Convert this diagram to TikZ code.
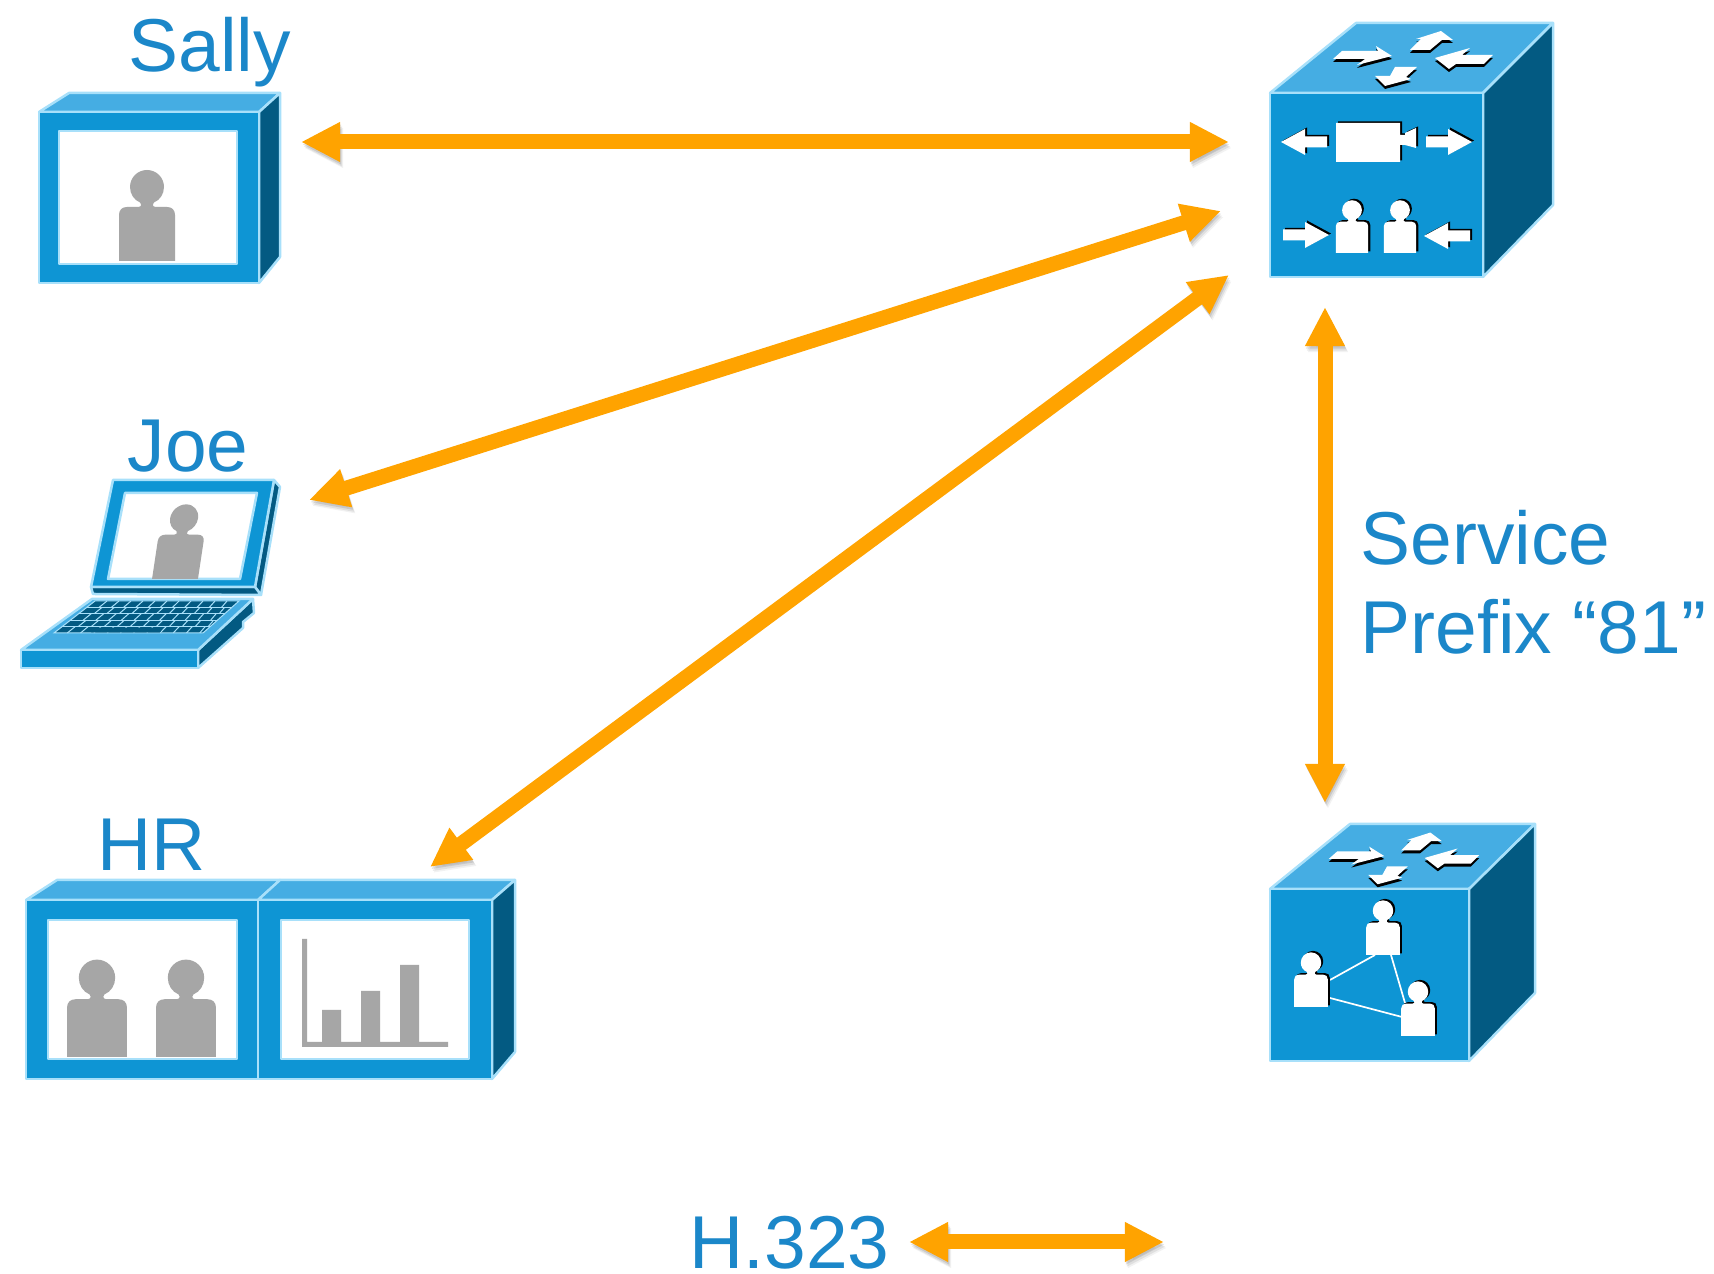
\documentclass[tikz,border=0pt]{standalone}
\usepackage{fontspec}
\setmainfont{Liberation Sans}
\usetikzlibrary{arrows.meta}

\definecolor{labelblue}{HTML}{1B87C9}
\definecolor{frontblue}{HTML}{0E95D4}
\definecolor{topblue}{HTML}{45ADE3}
\definecolor{sideblue}{HTML}{035A82}
\definecolor{edgeblue}{HTML}{A8E0FA}
\definecolor{linkorange}{HTML}{FFA300}
\definecolor{figgray}{HTML}{A6A6A6}

\tikzset{
	label/.style={font=\fontsize{21.3}{25}\selectfont, text=labelblue, anchor=base west, inner sep=0pt},
	link/.style={draw=linkorange, line width=0.15cm, {Triangle[length=0.39cm,width=0.37cm]}-{Triangle[length=0.39cm,width=0.37cm]},
		preaction={draw=black, draw opacity=0.05, fill opacity=0.05, transform canvas={shift={(0.03cm,-0.06cm)}}},
		preaction={draw=black, draw opacity=0.08, fill opacity=0.08, transform canvas={shift={(0.02cm,-0.045cm)}}},
		preaction={draw=black, draw opacity=0.10, fill opacity=0.10, transform canvas={shift={(0.01cm,-0.025cm)}}}},
	frontface/.style={fill=frontblue, draw=edgeblue, line width=0.025cm, line join=round},
	topface/.style={fill=topblue, draw=edgeblue, line width=0.025cm, line join=round},
	sideface/.style={fill=sideblue, draw=edgeblue, line width=0.025cm, line join=round},
	screenface/.style={fill=white, draw=edgeblue, line width=0.025cm, line join=round},
	figfill/.style={fill=figgray},
	iconwhite/.style={fill=white, preaction={fill=black, transform canvas={shift={(0.02cm,0.015cm)}}}},
	icondown/.style={fill=white, preaction={fill=black, transform canvas={shift={(0cm,-0.03cm)}}}},
	personicon/.pic={
		\path[#1] (-28,0) -- (-28,-46) .. controls (-28,-51) and (-25,-54) .. (-20,-54) -- (-9,-54)
			.. controls (-6,-54) and (-5,-56) .. (-7,-58.5) .. controls (-13,-61) and (-17,-67) .. (-17,-74)
			.. controls (-17,-83.4) and (-9.4,-91) .. (0,-91) .. controls (9.4,-91) and (17,-83.4) .. (17,-74)
			.. controls (17,-67) and (13,-61) .. (7,-58.5) .. controls (5,-56) and (6,-54) .. (9,-54)
			-- (20,-54) .. controls (25,-54) and (28,-51) .. (28,-46) -- (28,0) -- cycle;
	},
	flatarrow/.pic={
		\path[iconwhite] (0,-5.5) -- (22,-5.5) -- (22,-13) -- (46,0) -- (22,13) -- (22,5.5) -- (0,5.5) -- cycle;
	},
	toparrows/.pic={
		\path[icondown] (-71,-6) -- (-35,-6) -- (-37,-11) -- (-21,-1) -- (-56,8) -- (-48,2) -- (-80,2) -- cycle;
		\path[icondown] (-3,-7) -- (8,-18) -- (3,-18) -- (28,-26) -- (40,-17) -- (29,-17) -- (17,-7) -- cycle;
		\path[icondown] (22,1) -- (57,-9) -- (49,-2) -- (80,-2) -- (71,7) -- (43,7) -- (36,12) -- cycle;
		\path[icondown] (-38,19) -- (-23,19) -- (-18,10) -- (4,10) -- (-7,20) -- (-2,22) -- (-28,29) -- cycle;
	}
}

\begin{document}
\begin{tikzpicture}[x=0.01cm,y=-0.01cm]
	\useasboundingbox (0,0) rectangle (1714,1274);

	% link ends
	\coordinate (SallyEnd) at (301,142);
	\coordinate (JoeEnd) at (309,500);
	\coordinate (HREnd) at (430,867);
	\coordinate (HubSally) at (1229,142);
	\coordinate (HubJoe) at (1221,211);
	\coordinate (HubHR) at (1229,275);
	\coordinate (HubDown) at (1325,307);
	\coordinate (GateUp) at (1325,803);
	\coordinate (KeyLeft) at (909,1242);
	\coordinate (KeyRight) at (1164,1242);

	% Sally
	\node[label] (Sally) at (128,72) {Sally};
	\fill[topface] (39,112) -- (69,93) -- (280,93) -- (259,112) -- cycle;
	\fill[sideface] (259,112) -- (280,93) -- (280,257) -- (259,283) -- cycle;
	\fill[frontface] (39,112) rectangle (259,283);
	\fill[screenface] (59,131) rectangle (237,264);
	\pic at (147,261) {personicon=figfill};

	% Joe
	\node[label] (Joe) at (127,472) {Joe};
	\fill[sideface] (274,480) -- (280,487) -- (261,595) -- (255,587) -- cycle;
	\fill[sideface] (91,587) -- (255,587) -- (261,595) -- (93,594) -- cycle;
	\fill[frontface] (113,480) -- (274,480) -- (255,587) -- (91,587) -- cycle;
	\fill[screenface] (125,493) -- (257,493) -- (240,579) -- (108,579) -- cycle;
	\pic[scale=0.82, xslant=0.15] at (175,579) {personicon=figfill};
	\fill[sideface] (253,599) -- (254,613) -- (243,622) -- (243,628) -- (198,668) -- (198,650) -- cycle;
	\fill[topface] (92,599) -- (253,599) -- (198,650) -- (21,650) -- cycle;
	\fill[frontface] (21,650) rectangle (198,668);
	\fill[sideblue, draw=edgeblue, line width=0.01cm] (95,601) -- (239,601) -- (203,633) -- (54,633) -- cycle;
	\foreach \r in {1,...,4}
		\draw[edgeblue, line width=0.01cm] ({95-8.2*\r},{601+6.4*\r}) -- ({239-7.2*\r},{601+6.4*\r});
	\foreach \r in {0,...,4}
		\foreach \c in {1,...,11}
			\draw[edgeblue, line width=0.01cm] ({95-8.2*\r+(12+0.25*\r)*\c+3*mod(\r,2)},{601+6.4*\r}) -- ({95-8.2*(\r+1)+(12+0.25*(\r+1))*\c+3*mod(\r,2)},{601+6.4*(\r+1)});
	\fill[sideblue] (97,627.6) -- (163,627.6) -- (160,632.5) -- (91,632.5) -- cycle;

	% HR
	\node[label] (HR) at (97,871) {HR};
	\fill[topface] (26,900) -- (57,880) -- (280,880) -- (258,900) -- cycle;
	\fill[topface] (258,900) -- (280,880) -- (515,880) -- (492,900) -- cycle;
	\fill[sideface] (492,900) -- (515,880) -- (515,1052) -- (492,1079) -- cycle;
	\fill[frontface] (26,900) rectangle (258,1079);
	\fill[frontface] (258,900) rectangle (492,1079);
	\fill[screenface] (48,920) rectangle (237,1059);
	\fill[screenface] (281,920) rectangle (469,1059);
	\pic[scale=1.07] at (97,1057) {personicon=figfill};
	\pic[scale=1.07] at (186,1057) {personicon=figfill};
	\fill[figgray] (302,939) -- (307,939) -- (307,1042) -- (322,1042) -- (322,1010) -- (341,1010) -- (341,1042)
		-- (361,1042) -- (361,991) -- (380,991) -- (380,1042) -- (400,1042) -- (400,965) -- (419,965) -- (419,1042)
		-- (448,1042) -- (448,1047) -- (302,1047) -- cycle;

	% conference bridge
	\fill[topface] (1270,93) -- (1356,23) -- (1553,23) -- (1483,93) -- cycle;
	\fill[sideface] (1483,93) -- (1553,23) -- (1553,205) -- (1483,277) -- cycle;
	\fill[frontface] (1270,93) rectangle (1483,277);
	\pic at (1413,57) {toparrows};
	\pic[xscale=-1] at (1327,142) {flatarrow};
	\pic at (1426,142) {flatarrow};
	\pic at (1283,235) {flatarrow};
	\pic[xscale=-1] at (1470,236) {flatarrow};
	\path[iconwhite] (1336,123) -- (1400,123) -- (1400,135) -- (1405,135) -- (1405,133) -- (1416,128) -- (1416,148)
		-- (1405,145) -- (1400,145) -- (1400,162) -- (1336,162) -- cycle;
	\pic[scale=0.58] at (1352,253) {personicon=iconwhite};
	\pic[scale=0.58] at (1400,253) {personicon=iconwhite};

	% gatekeeper
	\fill[topface] (1270,889) -- (1350,824) -- (1535,824) -- (1469,889) -- cycle;
	\fill[sideface] (1469,889) -- (1535,824) -- (1535,993) -- (1469,1061) -- cycle;
	\fill[frontface] (1270,889) rectangle (1469,1061);
	\pic[scale=0.94] at (1404,857) {toparrows};
	\coordinate (MeshA) at (1375,955);
	\coordinate (MeshB) at (1391,955);
	\coordinate (MeshC) at (1405,1003);
	\coordinate (MeshD) at (1402,1017);
	\coordinate (MeshE) at (1330,980);
	\coordinate (MeshF) at (1330,998);
	\draw[white, line width=0.017cm] (MeshE) -- (MeshA);
	\draw[white, line width=0.017cm] (MeshB) -- (MeshC);
	\draw[white, line width=0.017cm] (MeshF) -- (MeshD);
	\pic[scale=0.6] at (1383,955) {personicon=iconwhite};
	\pic[scale=0.6] at (1311,1007) {personicon=iconwhite};
	\pic[scale=0.6] at (1418,1036) {personicon=iconwhite};

	% links
	\draw[link] (SallyEnd) -- (HubSally);
	\draw[link] (JoeEnd) -- (HubJoe);
	\draw[link] (HREnd) -- (HubHR);
	\draw[link] (HubDown) -- (GateUp);
	\draw[link] (KeyLeft) -- (KeyRight);

	\node[label] (Service) at (1360,565) {Service};
	\node[label] (Prefix) at (1360,654) {Prefix “81”};
	\node[label] (Key) at (689,1269) {H.323};
\end{tikzpicture}
\end{document}
